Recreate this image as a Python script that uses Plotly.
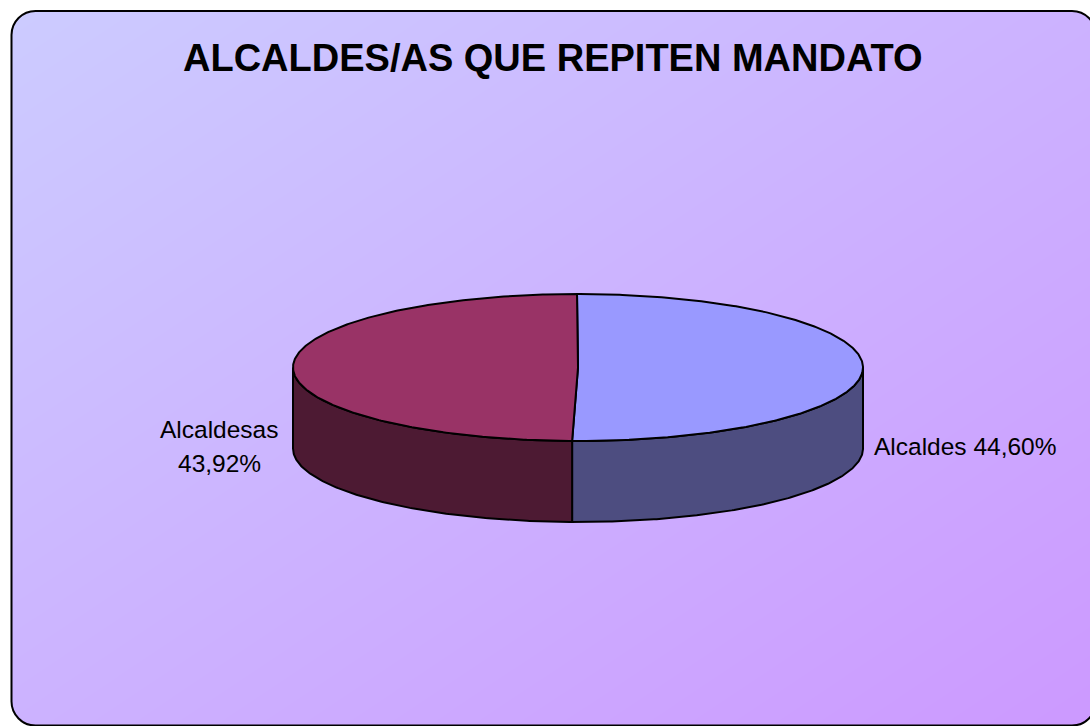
import math
import plotly.graph_objects as go

TITLE = "ALCALDES/AS QUE REPITEN MANDATO"
categories = ["Alcaldes", "Alcaldesas"]
values = [44.60, 43.92]
top_colors = ["#9999FF", "#993366"]
side_colors = ["#4D4D80", "#4D1A33"]

W, H = 1090, 726
CX, CY, RX, RY, DEPTH = 578, 367.5, 285, 73.5, 81
START_ANGLE = math.radians(-0.2)


def pt(a, dy=0):
    return CX + RX * math.sin(a), CY + RY * -math.cos(a) + dy


def arc(a0, a1, dy=0):
    n = max(2, int(abs(a1 - a0) / 0.01))
    return [pt(a0 + (a1 - a0) * i / n, dy) for i in range(n + 1)]


fig = go.Figure()

# diagonal background wash
nx, ny = 12, 8
gx = [W * i / (nx - 1) for i in range(nx)]
gy = [H * j / (ny - 1) for j in range(ny)]
gz = [[(x / W + y / H) / 2 for x in gx] for y in gy]
fig.add_trace(go.Heatmap(x=gx, y=gy, z=gz, zmin=0, zmax=1, zsmooth="best", showscale=False,
                         colorscale=[[0, "#CCCCFF"], [1, "#CC99FF"]], hoverinfo="skip"))

total = sum(values)
angles = [START_ANGLE]
for v in values:
    angles.append(angles[-1] + 2 * math.pi * v / total)
BOLD = dict(color="black", width=2)

# side walls (visible front half only)
for i in range(2):
    a0 = max(angles[i], math.pi / 2)
    a1 = min(angles[i + 1], 3 * math.pi / 2)
    pts = arc(a0, a1) + arc(a1, a0, DEPTH)
    pts.append(pts[0])
    fig.add_trace(go.Scatter(x=[p[0] for p in pts], y=[p[1] for p in pts], mode="lines", fill="toself",
                             fillcolor=side_colors[i], line=BOLD, hoverinfo="skip", showlegend=False))
# top faces
for i in range(2):
    pts = [(CX, CY)] + arc(angles[i], angles[i + 1]) + [(CX, CY)]
    fig.add_trace(go.Scatter(x=[p[0] for p in pts], y=[p[1] for p in pts], mode="lines", fill="toself",
                             fillcolor=top_colors[i], line=BOLD, hoverinfo="skip", showlegend=False))


def fmt(v):
    return f"{v:.2f}".replace(".", ",") + "%"


FONT = "Liberation Sans"
LABEL = dict(family=FONT, size=24.5, color="black")
ann = [
    dict(x=553, y=58, text=f"<b>{TITLE}</b>", font=dict(family=FONT, size=38, color="black")),
    dict(x=965, y=446, text=f"{categories[0]} {fmt(values[0])}", font=LABEL),
    dict(x=219, y=429, text=categories[1], font=LABEL),
    dict(x=219, y=463, text=fmt(values[1]), font=LABEL),
]
for a in ann:
    a.update(xref="x", yref="y", showarrow=False, xanchor="center", yanchor="middle")


def rrect(l, t, r, b, c, rev=False):
    k = c * 0.45
    return (f"M{l+c},{t} L{r-c},{t} C{r-k},{t} {r},{t+k} {r},{t+c} L{r},{b-c} C{r},{b-k} {r-k},{b} {r-c},{b} "
            f"L{l+c},{b} C{l+k},{b} {l},{b-k} {l},{b-c} L{l},{t+c} C{l},{t+k} {l+k},{t} {l+c},{t} Z")


L, T, R, B, C = 11.5, 11, 1096, 725.5, 24
shapes = [
    dict(type="path", xref="x", yref="y", layer="above", line_width=0, fillcolor="white", fillrule="evenodd",
         path=f"M-5,-5 L{W+5},-5 L{W+5},{H+5} L-5,{H+5} Z " + rrect(L, T, R, B, C)),
    dict(type="path", xref="x", yref="y", layer="above", line=dict(color="black", width=2), fillcolor="rgba(0,0,0,0)",
         path=rrect(L, T, R, B, C)),
]

fig.update_layout(
    width=W, height=H, margin=dict(l=0, r=0, t=0, b=0), paper_bgcolor="white", plot_bgcolor="white",
    xaxis=dict(range=[0, W], visible=False, fixedrange=True),
    yaxis=dict(range=[H, 0], visible=False, fixedrange=True),
    annotations=ann, shapes=shapes, showlegend=False,
)
fig.write_html("out.html", config=dict(displayModeBar=False),
               post_script="document.body.style.margin='0';document.body.style.overflow='hidden';")
